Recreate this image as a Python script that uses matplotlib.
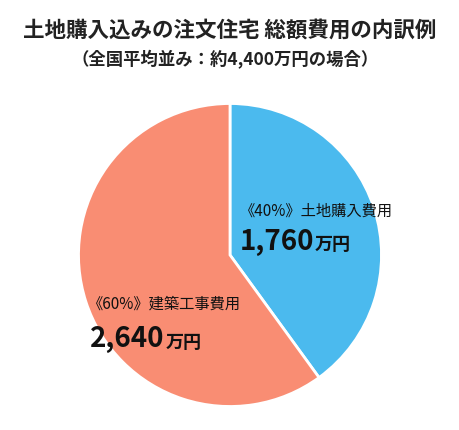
import matplotlib.pyplot as plt

plt.rcParams['font.family'] = ['Noto Sans CJK JP', 'DejaVu Sans']

labels = ['土地購入費用', '建築工事費用']
shares = [40, 60]
amounts = ['1,760', '2,640']
colors = ['#4BBAEE', '#F98D73']

W, H = 460, 430
fig = plt.figure(figsize=(W / 100, H / 100), dpi=100)

def px(x, y):
    return x / W, 1 - y / H

ax = fig.add_axes([0.5 - 153 / W, 1 - 255 / H - 153 / H, 306 / W, 306 / H])
ax.pie(shares, colors=colors, startangle=90, counterclock=False,
       wedgeprops=dict(edgecolor='white', linewidth=2))
ax.set_xlim(-1.01, 1.01)
ax.set_ylim(-1.01, 1.01)
ax.set_aspect('equal')

fig.text(*px(230, 30), '土地購入込みの注文住宅 総額費用の内訳例', ha='center', va='center',
         fontsize=15.5, fontweight='bold', color='#222222')
fig.text(*px(225, 60), '（全国平均並み：約4,400万円の場合）', ha='center', va='center',
         fontsize=12.5, fontweight='bold', color='#222222')

# label positions (pixels): small label, big number, unit
pos = [((240, 211), (240, 242), (315, 245)),
       ((88, 304), (90, 339), (166, 342))]
for lab, sh, amt, (p1, p2, p3) in zip(labels, shares, amounts, pos):
    fig.text(*px(*p1), f'《{sh}%》{lab}', ha='left', va='center', fontsize=11, color='#111111')
    fig.text(*px(*p2), amt, ha='left', va='center', fontsize=20, fontweight='bold', color='#111111')
    fig.text(*px(*p3), '万円', ha='left', va='center', fontsize=13, fontweight='bold', color='#111111')

fig.savefig('out.png', dpi=100)
